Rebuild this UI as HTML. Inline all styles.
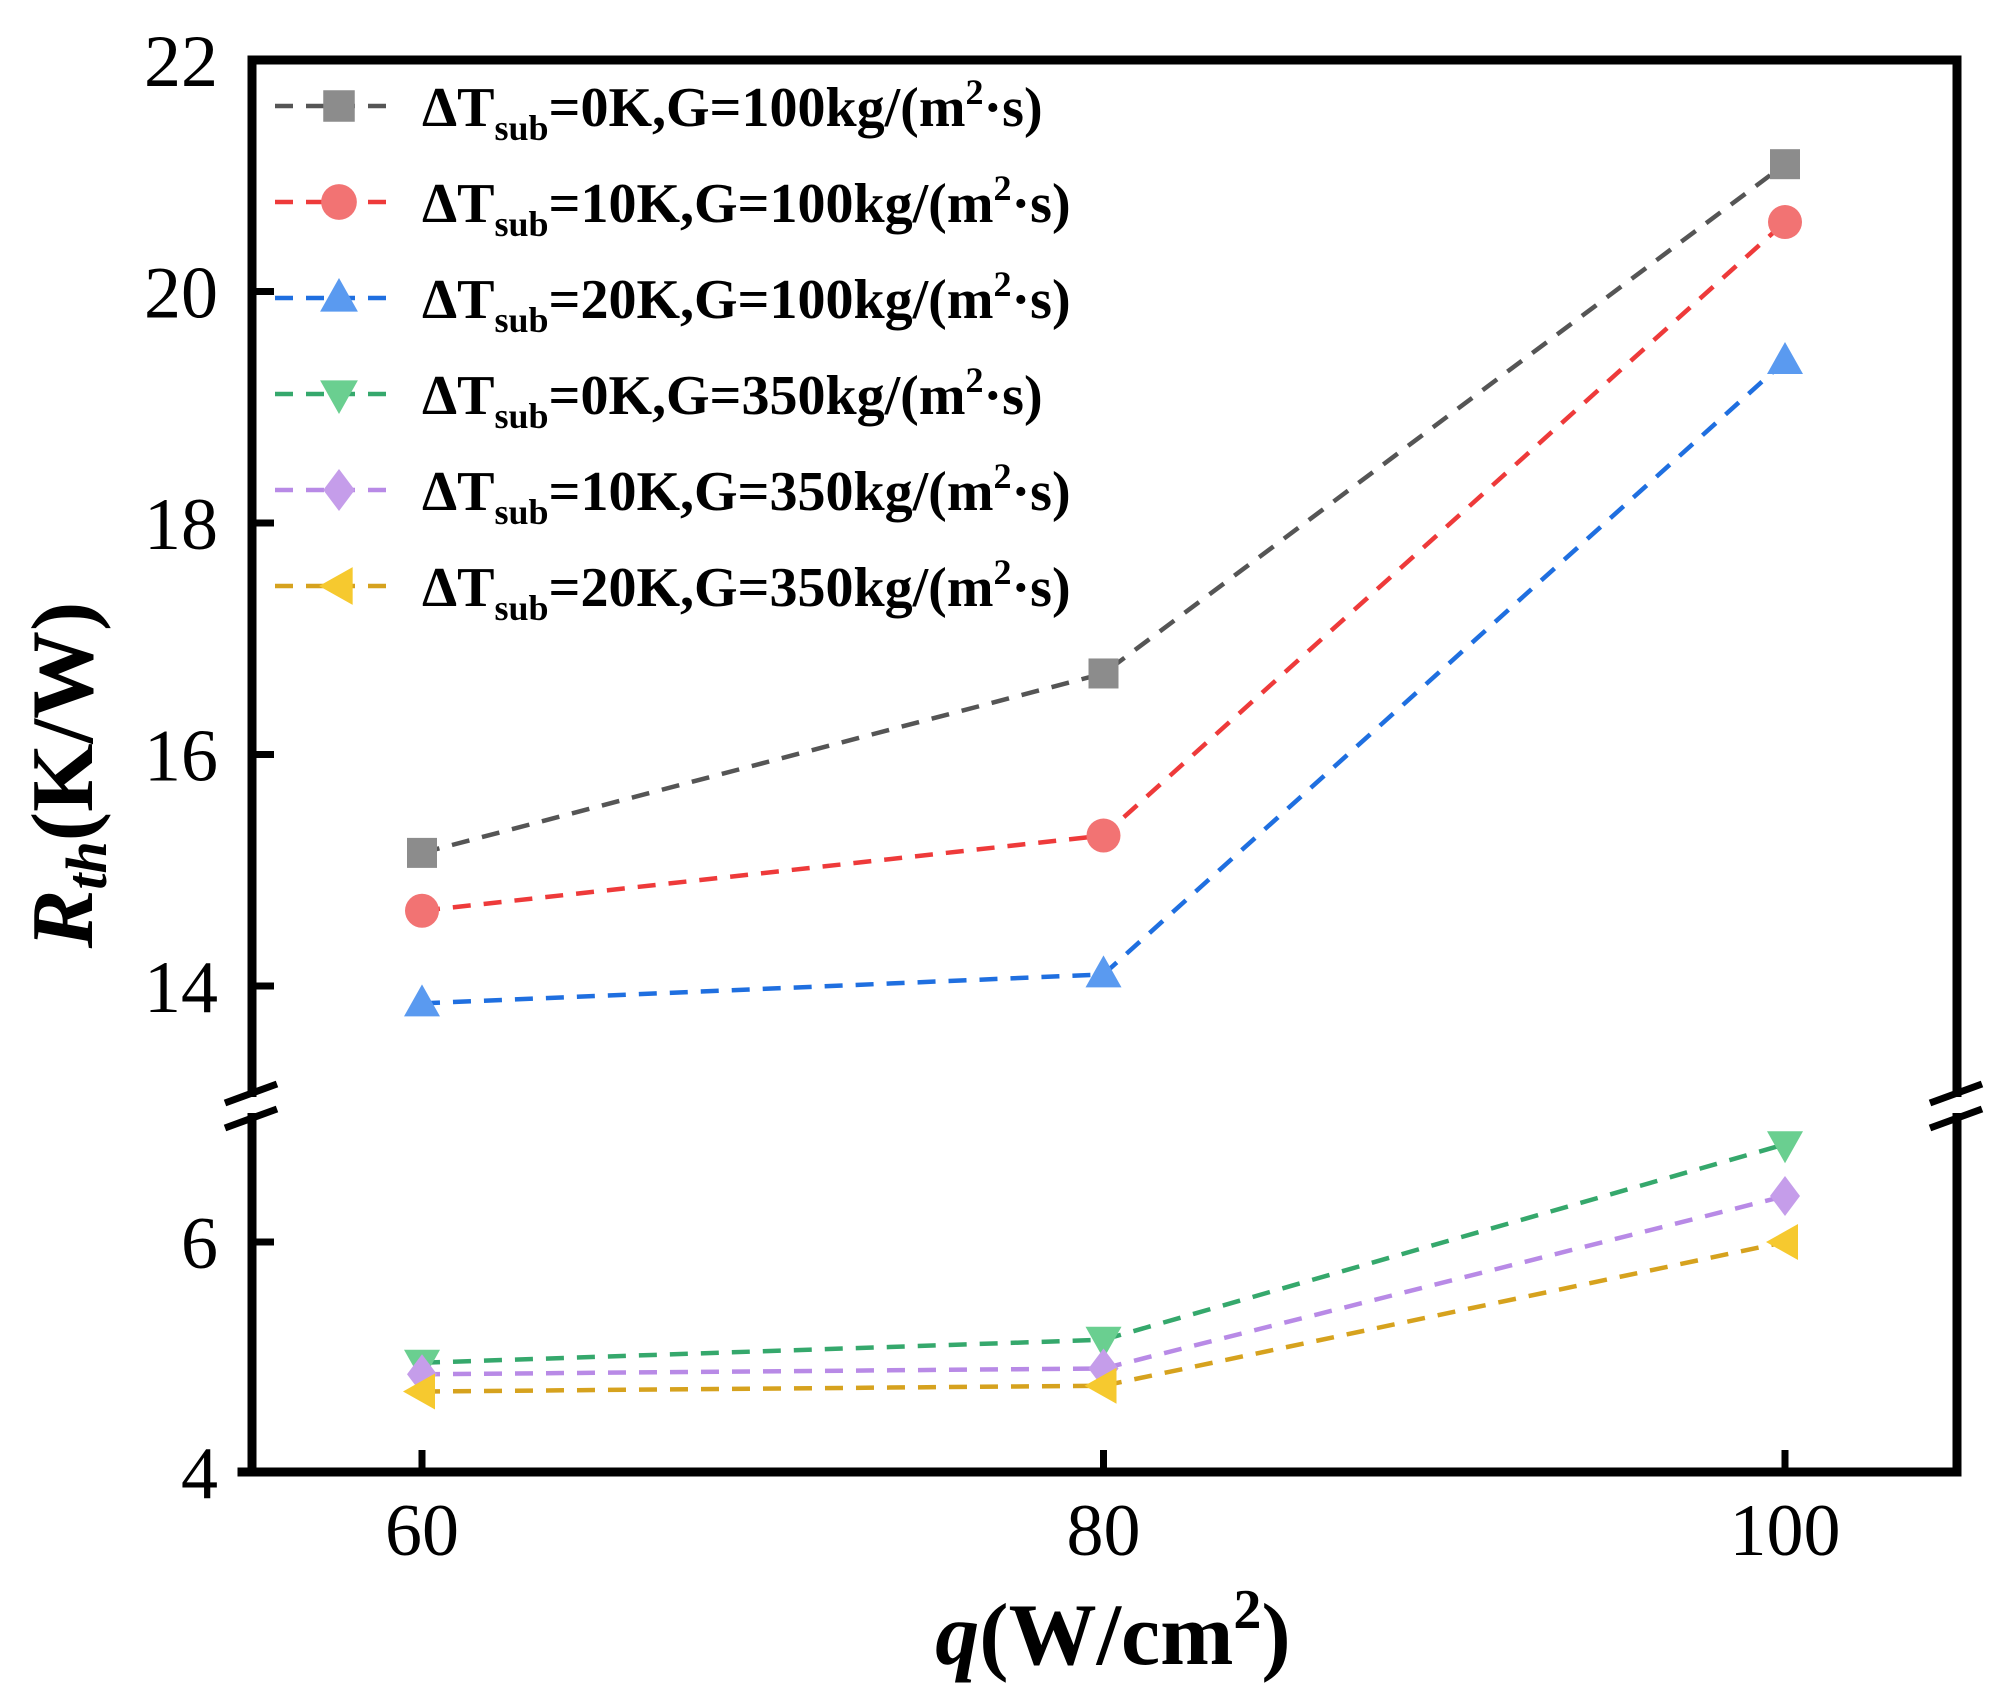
<!DOCTYPE html>
<html><head><meta charset="utf-8"><style>
html,body{margin:0;padding:0;background:#fff;}
svg{display:block;font-family:"Liberation Serif",serif;}
</style></head><body>
<svg id="chart" width="2000" height="1695" viewBox="0 0 2000 1695" xmlns="http://www.w3.org/2000/svg">
<g id="plot"></g>
<g id="axes"></g>
<g id="legend"></g>
</svg>
<script>
const categories = [60, 80, 100];
const s0 = [15.15, 16.7, 21.1];
const s1 = [14.65, 15.3, 20.6];
const s2 = [13.85, 14.1, 19.4];
const s3 = [4.95, 5.15, 6.85];
const s4 = [4.85, 4.9, 6.4];
const s5 = [4.7, 4.75, 6.0];
const seriesLabels = ["=0K,G=100kg/(m","=10K,G=100kg/(m","=20K,G=100kg/(m","=0K,G=350kg/(m","=10K,G=350kg/(m","=20K,G=350kg/(m"];
const yTicksUpper = [14, 16, 18, 20, 22];
const yTicksLower = [4, 6];
const xTicks = [60, 80, 100];

const NS = "http://www.w3.org/2000/svg";
function mk(tag, attrs, parent){const e=document.createElementNS(NS,tag);for(const k in attrs)e.setAttribute(k,attrs[k]);parent.appendChild(e);return e;}
const L=252, R=1957, T=60, B=1472, BRK=1105;
function xs(v){return 422+(v-60)*(1785-422)/40;}
function ys(v){ if(v>=10) return 60+(22-v)*115.75; return 1472-(v-4)*115; }

const styles=[
 {line:"#555555",fill:"#8c8c8c",m:"square"},
 {line:"#ee3a3a",fill:"#f27373",m:"circle"},
 {line:"#1f6fe0",fill:"#5a9af0",m:"up"},
 {line:"#35a86c",fill:"#6acf90",m:"down"},
 {line:"#b88ae6",fill:"#c59dea",m:"diamond"},
 {line:"#d6a21e",fill:"#f6c92f",m:"left"}
];
const allSeries=[s0,s1,s2,s3,s4,s5];
function marker(g,type,x,y,fill,s){
 s=s||1;let e;
 if(type==="square") e=mk("rect",{x:x-15*s,y:y-15*s,width:30*s,height:30*s,fill:fill},g);
 else if(type==="circle") e=mk("circle",{cx:x,cy:y,r:17*s,fill:fill},g);
 else if(type==="up") e=mk("polygon",{points:`${x},${y-19*s} ${x+18*s},${y+13*s} ${x-18*s},${y+13*s}`,fill:fill},g);
 else if(type==="down") e=mk("polygon",{points:`${x},${y+19*s} ${x+18*s},${y-13*s} ${x-18*s},${y-13*s}`,fill:fill},g);
 else if(type==="diamond") e=mk("polygon",{points:`${x},${y-20*s} ${x+15*s},${y} ${x},${y+20*s} ${x-15*s},${y}`,fill:fill},g);
 else e=mk("polygon",{points:`${x-19*s},${y} ${x+13*s},${y-18*s} ${x+13*s},${y+18*s}`,fill:fill},g);
 return e;
}
const plot=document.getElementById("plot");
allSeries.forEach((arr,i)=>{
 const st=styles[i];
 const pts=arr.map((v,j)=>xs(categories[j])+","+ys(v)).join(" ");
 const pl=mk("polyline",{points:pts,fill:"none",stroke:st.line,"stroke-width":4.5,"stroke-dasharray":"18 13"},plot);
 
 
 arr.forEach((v,j)=>{
  const m=marker(plot,st.m,xs(categories[j]),ys(v),st.fill);
  
  
 });
});
const ax=document.getElementById("axes");
const aw=9;
mk("line",{x1:L,y1:T,x2:R,y2:T,stroke:"#000","stroke-width":aw},ax);
mk("line",{x1:L-aw/2-10,y1:B,x2:R+aw/2,y2:B,stroke:"#000","stroke-width":aw},ax);
[L,R].forEach((x,k)=>{
 mk("line",{x1:x,y1:T-aw/2,x2:x,y2:BRK-8,stroke:"#000","stroke-width":aw},ax);
 mk("line",{x1:x,y1:BRK+8,x2:x,y2:B,stroke:"#000","stroke-width":aw},ax);
 mk("line",{x1:x-27,y1:BRK-2,x2:x+25,y2:BRK-21,stroke:"#000","stroke-width":7},ax);
 mk("line",{x1:x-27,y1:BRK+23,x2:x+25,y2:BRK+4,stroke:"#000","stroke-width":7},ax);
});
yTicksUpper.concat(yTicksLower).forEach(v=>{
 const y=ys(v);
 const t=mk("line",{x1:L,y1:y,x2:L+22,y2:y,stroke:"#000","stroke-width":7},ax);
 
 
 const tx=mk("text",{x:218,y:y+26,"text-anchor":"end","font-size":74},ax);
 tx.textContent=v;
 
 
});
xTicks.forEach(v=>{
 const x=xs(v);
 const t=mk("line",{x1:x,y1:B,x2:x,y2:B-22,stroke:"#000","stroke-width":7},ax);
 
 
 const tx=mk("text",{x:x,y:1555,"text-anchor":"middle","font-size":74},ax);
 tx.textContent=v;
 
 
});
const leg=document.getElementById("legend");
styles.forEach((st,i)=>{
 const y=106+i*96;
 const g=mk("g",{},leg);
 
 
 mk("line",{x1:275,y1:y,x2:392,y2:y,stroke:st.line,"stroke-width":4.5,"stroke-dasharray":"18 13"},g);
 marker(g,st.m,339,y,st.fill,1.05);
 const t=mk("text",{x:422,y:y+20,"font-size":56,"font-weight":"bold"},g);
 t.innerHTML='ΔT<tspan font-size="36" dy="14">sub</tspan><tspan dy="-14">'+seriesLabels[i]+'</tspan><tspan font-size="36" dy="-22">2</tspan><tspan dy="22">·s)</tspan>';
});
</script>
<svg style="position:absolute;left:0;top:0" width="2000" height="1695">
<text transform="translate(92,775) rotate(-90)" text-anchor="middle" font-family="Liberation Serif" font-size="88" font-weight="bold"><tspan font-style="italic">R</tspan><tspan font-style="italic" font-size="58" dy="14">th</tspan><tspan dy="-14">(K/W)</tspan></text>
<text x="1113" y="1664" text-anchor="middle" font-family="Liberation Serif" font-size="88" font-weight="bold"><tspan font-style="italic">q</tspan>(W/cm<tspan font-size="56" dy="-36">2</tspan><tspan dy="36">)</tspan></text>
</svg>
</body></html>
